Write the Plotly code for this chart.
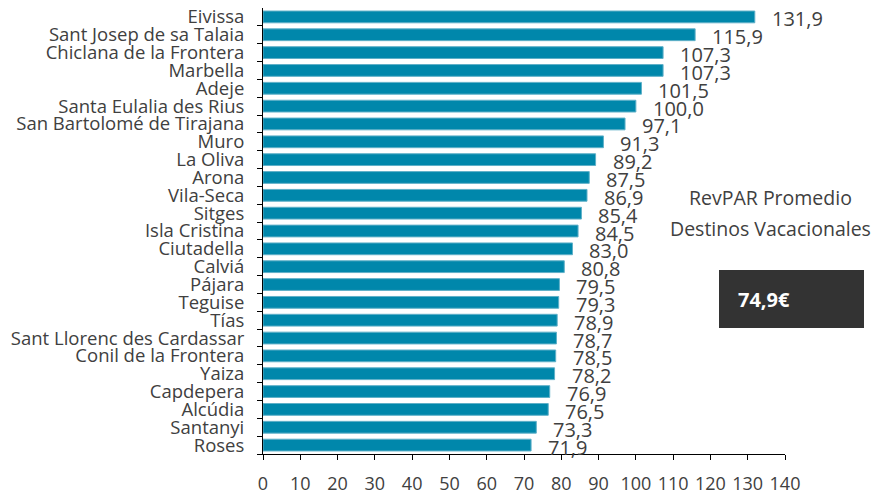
import plotly.graph_objects as go

categories = ["Eivissa", "Sant Josep de sa Talaia", "Chiclana de la Frontera", "Marbella", "Adeje",
              "Santa Eulalia des Rius", "San Bartolomé de Tirajana", "Muro", "La Oliva", "Arona",
              "Vila-Seca", "Sitges", "Isla Cristina", "Ciutadella", "Calviá", "Pájara", "Teguise",
              "Tías", "Sant Llorenc des Cardassar", "Conil de la Frontera", "Yaiza", "Capdepera",
              "Alcúdia", "Santanyi", "Roses"]
values = [131.9, 115.9, 107.3, 107.3, 101.5, 100.0, 97.1, 91.3, 89.2, 87.5, 86.9, 85.4, 84.5,
          83.0, 80.8, 79.5, 79.3, 78.9, 78.7, 78.5, 78.2, 76.9, 76.5, 73.3, 71.9]
labels = [f"{v:.1f}".replace(".", ",") for v in values]
x_ticks = list(range(0, 141, 10))
avg_title_1 = "RevPAR Promedio"
avg_title_2 = "Destinos Vacacionales"
avg_value = "74,9€"

FONT = "Open Sans"
TXT = "#404040"

# page offset (body margin) of 8px is compensated here
OFF = 8
L, R, T, B = 263 - OFF, 785 - OFF, 8 - OFF, 454 - OFF
PW, PH = R - L, B - T
W, H = 879, 494


def px(x):
    return (x - OFF - L) / PW


def py(y):
    return (B - (y - OFF)) / PH


fig = go.Figure()
fig.add_trace(go.Bar(
    x=values, y=categories, orientation="h",
    marker=dict(color="#0087AB", line=dict(color="#5fb0c8", width=1)),
    width=0.66, hoverinfo="x+y",
))

for c, v, t in zip(categories, values, labels):
    fig.add_annotation(x=v, y=c, text=t, showarrow=False, xanchor="left",
                       xshift=15, yshift=-2,
                       font=dict(family=FONT, size=20, color=TXT))

fig.add_annotation(x=px(770), y=py(197), xref="paper", yref="paper",
                   text=avg_title_1, showarrow=False, xanchor="center", yanchor="middle",
                   font=dict(family=FONT, size=19.5, color=TXT))
fig.add_annotation(x=px(770), y=py(228), xref="paper", yref="paper",
                   text=avg_title_2, showarrow=False, xanchor="center", yanchor="middle",
                   font=dict(family=FONT, size=19.5, color=TXT))

fig.update_layout(
    width=W, height=H,
    margin=dict(l=L, r=W - R, t=T, b=H - B),
    paper_bgcolor="white", plot_bgcolor="white",
    showlegend=False,
    font=dict(family=FONT, size=16, color=TXT),
    xaxis=dict(range=[0, 140], tickmode="array", tickvals=x_ticks,
               ticktext=[str(t) for t in x_ticks],
               showgrid=False, zeroline=False, showline=True, linecolor="black", linewidth=1,
               ticks="outside", ticklen=5, tickcolor="black", automargin=False,
               ticklabelstandoff=8,
               tickfont=dict(family=FONT, size=18, color=TXT), fixedrange=True),
    yaxis=dict(type="category", categoryorder="array", categoryarray=categories[::-1],
               range=[-0.5, len(categories) - 0.5], autorange=False,
               tickmode="array", tickvals=categories, ticktext=categories,
               showgrid=False, showline=True, linecolor="black", linewidth=1,
               ticks="outside", ticklen=5, tickcolor="black", tickson="boundaries",
               automargin=False, fixedrange=True,
               tickfont=dict(family=FONT, size=18.5, color=TXT), ticklabelstandoff=14),
)

fig.add_shape(type="rect", xref="paper", yref="paper",
              x0=px(719), x1=px(864), y0=py(328), y1=py(270),
              fillcolor="#333333", line=dict(width=0), layer="above")
fig.add_annotation(xref="paper", yref="paper",
                   x=px(791.5), y=py(299),
                   text=f"<b>{avg_value}</b>", showarrow=False,
                   font=dict(family=FONT, size=20, color="white"))

fig.write_html("out.html")
